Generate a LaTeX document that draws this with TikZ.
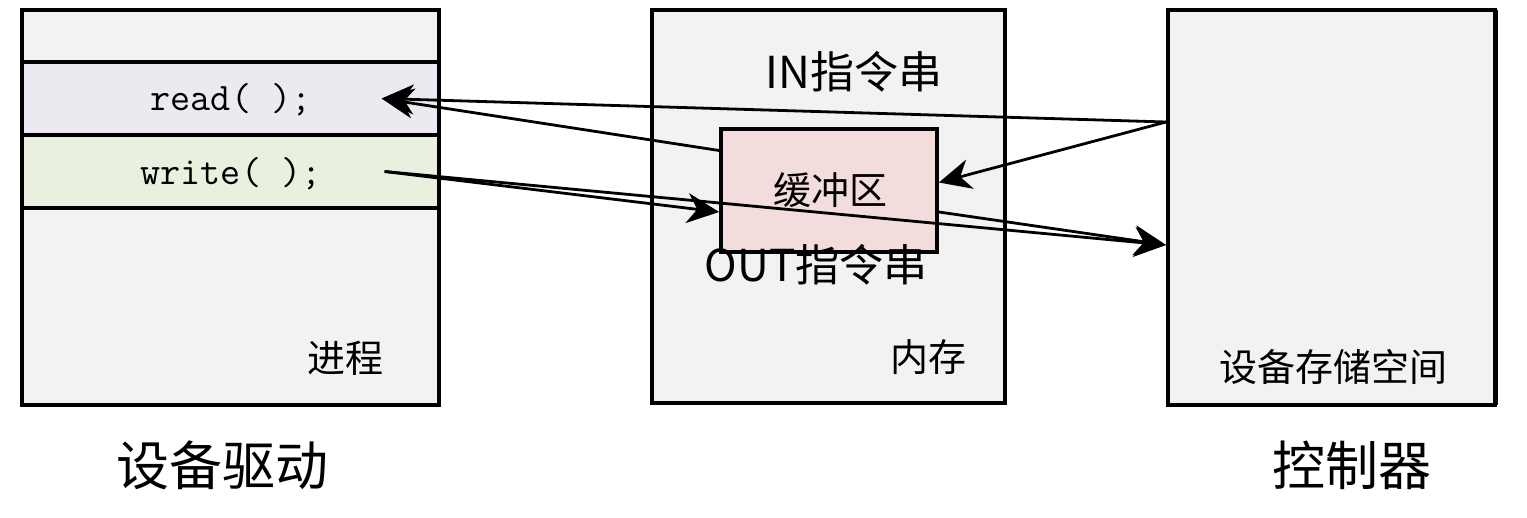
\documentclass[tikz,border=0pt]{standalone}
\usepackage{fontspec}
\setmainfont{Noto Sans CJK SC}
\usetikzlibrary{arrows.meta}
\definecolor{boxgray}{RGB}{242,242,242}
\definecolor{readbg}{RGB}{236,233,241}
\definecolor{writebg}{RGB}{234,240,224}
\definecolor{bufbg}{RGB}{242,221,220}

\begin{document}
\begin{tikzpicture}[x=0.5pt,y=-0.5pt,
    box/.style={draw,line width=1.9pt,fill=boxgray,inner sep=0pt},
    row/.style={draw,line width=1.6pt,inner sep=0pt,minimum width=208.5pt,minimum height=36.5pt},
    lbl/.style={inner sep=0pt,font=\fontsize{19pt}{19pt}\selectfont},
    cmd/.style={inner sep=0pt,font=\fontsize{22pt}{22pt}\selectfont},
    big/.style={inner sep=0pt,font=\fontsize{26.5pt}{26.5pt}\selectfont},
    code/.style={inner sep=0pt,font=\ttfamily\fontsize{19.5pt}{19.5pt}\selectfont},
    link/.style={line width=1.4pt,-{Stealth[length=16pt,width=15pt,inset=5pt]}}]
	\useasboundingbox (0,0) rectangle (1527,518);
	% process (driver side)
	\node [box,minimum width=208.5pt,minimum height=197.5pt] (proc) at (230.5,207.5) {};
	\node [row,fill=readbg] (readrow) at (230.5,98.5) {};
	\node [row,fill=writebg] (writerow) at (230.5,171.5) {};
	\node [code] (read) at (231,100) {read( );};
	\node [code] (write) at (231,174) {write( );};
	\node [lbl] (proclbl) at (345,358) {进程};
	\node [big] (driver) at (222,465) {设备驱动};
	% memory
	\node [box,minimum width=176.5pt,minimum height=196.5pt] (mem) at (828.5,206.5) {};
	\node [cmd] (inlbl) at (854,72) {IN指令串};
	\node [box,fill=bufbg,minimum width=108pt,minimum height=61.5pt] (buffer) at (829,190.5) {};
	\node [lbl] (buflbl) at (830,190) {缓冲区};
	\node [lbl] (memlbl) at (928,357) {内存};
	% controller
	\fill (1172,10) rectangle (1498,405);
	\node [box,minimum width=163.5pt,minimum height=197.5pt] (ctrl) at (1331.5,207.5) {};
	\node [lbl] (ctrllbl) at (1333,367) {设备存储空间};
	\node [big] (ctrlname) at (1352,465) {控制器};
	% connectors
	\coordinate (readtip) at ([xshift=-29.5pt]readrow.east);
	\coordinate (writeend) at ([xshift=-28pt]writerow.east);
	\coordinate (ctrlout) at ([yshift=42.75pt]ctrl.west);
	\coordinate (ctrlin) at ([yshift=-18.75pt]ctrl.west);
	\draw [link] (ctrlout) -- (readtip);
	\draw [link] ([yshift=20pt]buffer.west) -- (readtip);
	\draw [link] (ctrlout) -- ([yshift=4pt]buffer.east);
	\draw [link] (writeend) -- ([yshift=-10.75pt]buffer.west);
	\draw [link] (writeend) -- (ctrlin);
	\draw [link] ([yshift=-10.75pt]buffer.east) -- (ctrlin);
	\node [cmd] (outlbl) at (816,265) {OUT指令串};
\end{tikzpicture}
\end{document}
